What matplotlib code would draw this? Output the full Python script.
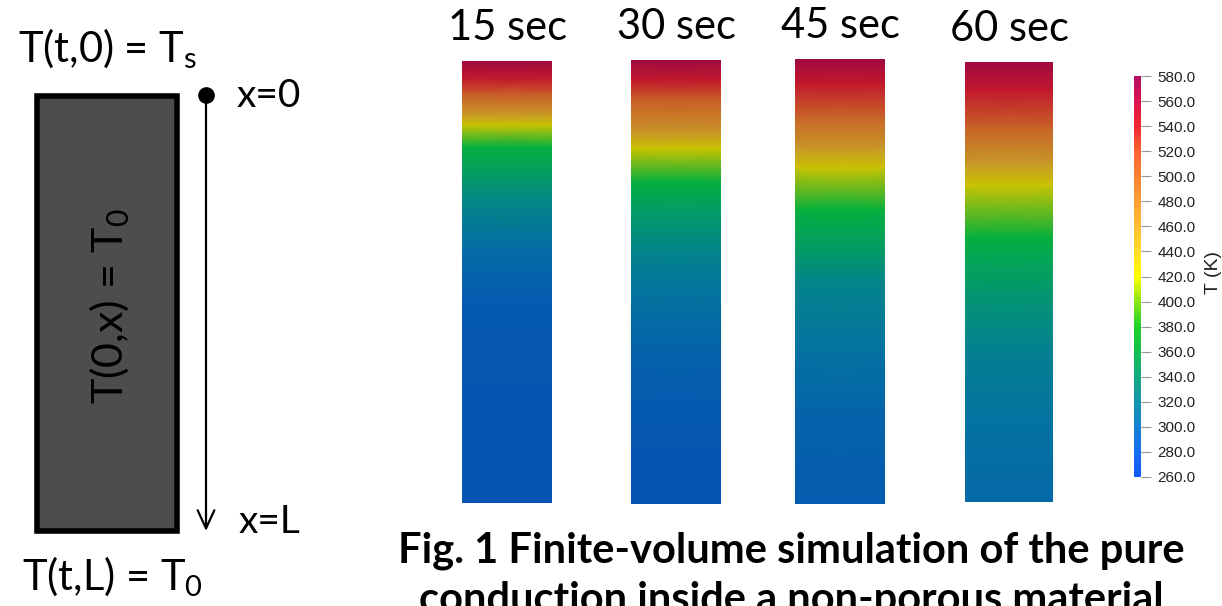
import numpy as np
import matplotlib
matplotlib.use("Agg")
import matplotlib.pyplot as plt
from matplotlib.colors import LinearSegmentedColormap, Normalize
from matplotlib.cm import ScalarMappable
from matplotlib.patches import Rectangle

plt.rcParams['font.family'] = ['Lato', 'DejaVu Sans']
plt.rcParams['mathtext.fontset'] = 'custom'
plt.rcParams['mathtext.rm'] = 'Lato'
plt.rcParams['mathtext.it'] = 'Lato'

W, H = 1222, 606

# temperature profiles along the bar: depth fraction (0 = heated face) vs T in K
times = ["15 sec", "30 sec", "45 sec", "60 sec"]
depth_15 = [0.0, 0.04, 0.075, 0.12, 0.145, 0.195, 0.31, 0.43, 0.56, 1.0]
temp_15 = [580, 545, 505, 455, 420, 375, 330, 298, 280, 275]
depth_30 = [0.0, 0.045, 0.09, 0.165, 0.20, 0.275, 0.34, 0.43, 0.50, 0.65, 0.80, 1.0]
temp_30 = [580, 545, 505, 455, 420, 375, 350, 325, 310, 290, 280, 276]
depth_45 = [0.0, 0.055, 0.13, 0.20, 0.245, 0.34, 0.43, 0.50, 0.65, 0.80, 1.0]
temp_45 = [580, 545, 500, 455, 420, 375, 350, 325, 305, 290, 283]
depth_60 = [0.0, 0.064, 0.15, 0.23, 0.28, 0.40, 0.43, 0.525, 0.655, 0.81, 1.0]
temp_60 = [580, 545, 500, 455, 420, 375, 365, 345, 320, 305, 295]
profiles = [(depth_15, temp_15), (depth_30, temp_30),
            (depth_45, temp_45), (depth_60, temp_60)]

# colour scale
t_min, t_max = 260.0, 580.0
cbar_ticks = np.arange(260, 581, 20)
stop_temps = [260, 280, 300, 320, 340, 360, 380, 400, 420, 440,
              460, 480, 500, 520, 540, 560, 580]
stop_colors = ['#145aff', '#146ef0', '#1482d2', '#1496aa', '#14aa82',
               '#14be50', '#1ed228', '#8ce614', '#ffff00', '#ffdc28',
               '#ffbe32', '#ffa032', '#ff8232', '#ff6432', '#f02832',
               '#dc1450', '#b40f64']
# the rendered bars are lit, so they read darker and duller than the legend
lit_colors = ['#054bb4', '#0558b0', '#056ea5', '#038091', '#039178',
              '#03a555', '#05b237', '#6ebe0a', '#c8c300', '#c8aa23',
              '#c89128', '#c87d28', '#c86428', '#c84b28', '#c81c28',
              '#b40f37', '#a00a41']

norm = Normalize(t_min, t_max)
stops = [(t - t_min) / (t_max - t_min) for t in stop_temps]
cmap = LinearSegmentedColormap.from_list('rainbow_pv', list(zip(stops, stop_colors)))
cmap_lit = LinearSegmentedColormap.from_list('rainbow_lit', list(zip(stops, lit_colors)))


def px_axes(x0, y0, x1, y1):
    return fig.add_axes([x0 / W, 1 - y1 / H, (x1 - x0) / W, (y1 - y0) / H])


fig = plt.figure(figsize=(W / 100, H / 100), dpi=100)

# schematic and captions on a pixel-space overlay
ax = fig.add_axes([0, 0, 1, 1])
ax.set_xlim(0, W)
ax.set_ylim(H, 0)
ax.axis('off')

ax.add_patch(Rectangle((37, 96), 140, 435, facecolor='#4d4d4d',
                       edgecolor='black', lw=4))
ax.text(110, 306, r'T(0,x) = $\mathrm{T_0}$', rotation=90, fontsize=31,
        ha='center', va='center')
ax.annotate('', xy=(206, 531), xytext=(206, 95),
            arrowprops=dict(arrowstyle='->,head_length=1.3,head_width=0.6',
                            lw=1.6, color='black', mutation_scale=10,
                            shrinkA=0, shrinkB=0))
ax.plot(206, 95, 'o', color='black', ms=11)
ax.text(18, 62, r'T(t,0) = $\mathrm{T_s}$', fontsize=30, ha='left', va='baseline')
ax.text(237, 107, 'x=0', fontsize=28, ha='left', va='baseline')
ax.text(239, 533, 'x=L', fontsize=28, ha='left', va='baseline')
ax.text(22, 590, r'T(t,L) = $\mathrm{T_0}$', fontsize=30, ha='left', va='baseline')

ax.text(791, 563, 'Fig. 1 Finite-volume simulation of the pure',
        fontsize=30, fontweight='bold', ha='center', va='baseline')
ax.text(791, 612, 'conduction inside a non-porous material',
        fontsize=30, fontweight='bold', ha='center', va='baseline')

# one lit bar per time snapshot
col_boxes = [(462, 61, 552, 503), (631, 60, 721, 504),
             (795, 59, 885, 504), (965, 62, 1053, 502)]
for label, (depth, temp), (x0, y0, x1, y1) in zip(times, profiles, col_boxes):
    cax_ = px_axes(x0, y0, x1, y1)
    X, Y = np.meshgrid([0.0, 1.0], depth)
    C = np.column_stack([temp, temp])
    cax_.pcolormesh(X, Y, C, cmap=cmap_lit, norm=norm, shading='gouraud')
    cax_.set_xlim(0, 1)
    cax_.set_ylim(1, 0)
    cax_.axis('off')
    ax.text((x0 + x1) / 2, y0 - 21, label, fontsize=30, ha='center', va='baseline')

# legend bar
cb_ax = px_axes(1134, 76, 1141, 477)
cb = fig.colorbar(ScalarMappable(norm=norm, cmap=cmap), cax=cb_ax, ticks=cbar_ticks)
cb.outline.set_visible(False)
cb.ax.set_yticklabels([f'{t:.1f}' for t in cbar_ticks])
cb.ax.tick_params(axis='y', length=7, width=0.8, color='#999999', pad=5,
                  labelsize=11, labelcolor='#222222')
for t in cb.ax.get_yticklabels():
    t.set_fontfamily('Liberation Sans')
fig.text(1213 / W, 1 - 273 / H, 'T (K)', rotation=90, fontsize=14,
         family='Liberation Sans', color='#222222', ha='center', va='center')

fig.savefig('out.png', dpi=100)
